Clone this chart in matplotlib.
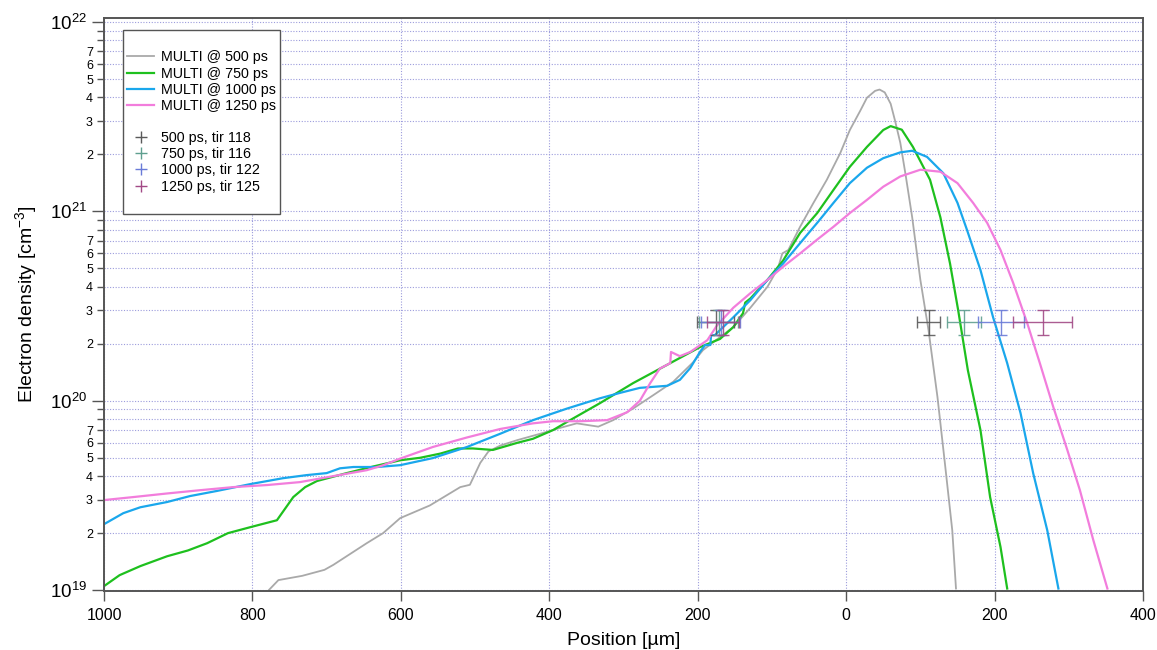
import numpy as np
import matplotlib
matplotlib.use("Agg")
import matplotlib.pyplot as plt
from matplotlib.lines import Line2D
from matplotlib.ticker import LogLocator, FuncFormatter, FixedLocator, LogFormatterMathtext

plt.rcParams['font.family'] = ['Liberation Sans', 'DejaVu Sans']
plt.rcParams['mathtext.default'] = 'regular'

# ---------------------- DADOS --------------------------------------------
# posicao em um (negativo = lado esquerdo, o eixo mostra o valor absoluto)
pos_500 = [-778, -765, -733, -703, -691, -646, -624, -601, -561, -520, -507, -493, -482, -466,
           -443, -412, -385, -363, -334, -314, -287, -260, -233, -206, -193, -170, -152, -129,
           -106, -92, -86, -78, -62, -44, -26, -8, 5, 19, 28, 39, 45, 52, 60, 66, 73, 80, 89,
           100, 111, 123, 133, 143, 148]
ne_500 = [1.0e19, 1.13e19, 1.19e19, 1.28e19, 1.36e19, 1.77e19, 2.0e19, 2.4e19, 2.8e19, 3.5e19,
          3.6e19, 4.7e19, 5.4e19, 5.8e19, 6.2e19, 6.7e19, 7.2e19, 7.6e19, 7.3e19, 7.9e19, 9.1e19,
          1.07e20, 1.26e20, 1.6e20, 1.85e20, 2.17e20, 2.45e20, 3.1e20, 4.0e20, 5.0e20, 6.0e20,
          6.25e20, 8.3e20, 1.11e21, 1.47e21, 2.03e21, 2.69e21, 3.4e21, 3.98e21, 4.33e21, 4.4e21,
          4.25e21, 3.7e21, 3.0e21, 2.3e21, 1.57e21, 9.3e20, 4.35e20, 2.36e20, 1.05e20, 4.7e19,
          2.07e19, 1.02e19]

pos_750 = [-1000, -979, -951, -915, -887, -861, -833, -803, -767, -745, -729, -713, -673, -637,
           -601, -574, -547, -523, -503, -476, -443, -422, -395, -372, -332, -287, -241, -197,
           -170, -152, -139, -136, -129, -106, -85, -62, -39, -17, 5, 28, 50, 60, 75, 90, 113,
           127, 140, 151, 164, 181, 194, 208, 217]
ne_750 = [1.05e19, 1.2e19, 1.34e19, 1.51e19, 1.62e19, 1.77e19, 2.0e19, 2.15e19, 2.34e19, 3.1e19,
          3.5e19, 3.77e19, 4.15e19, 4.5e19, 4.85e19, 5.0e19, 5.26e19, 5.6e19, 5.6e19, 5.5e19,
          6.0e19, 6.3e19, 7.0e19, 7.9e19, 9.7e19, 1.24e20, 1.55e20, 1.92e20, 2.12e20, 2.45e20,
          2.9e20, 3.3e20, 3.47e20, 4.35e20, 5.5e20, 7.7e20, 9.8e20, 1.3e21, 1.72e21, 2.19e21,
          2.69e21, 2.82e21, 2.7e21, 2.19e21, 1.47e21, 9.3e20, 5.3e20, 3.0e20, 1.45e20, 7.0e19,
          3.1e19, 1.69e19, 1.02e19]

pos_1000 = [-1000, -974, -951, -915, -884, -848, -803, -759, -727, -700, -682, -664, -632, -601,
            -557, -511, -466, -422, -376, -332, -305, -278, -241, -224, -210, -197, -190, -183,
            -182, -177, -170, -152, -129, -106, -85, -62, -39, -17, 5, 28, 50, 73, 89, 109, 131,
            150, 163, 181, 198, 217, 235, 252, 271, 286]
ne_1000 = [2.23e19, 2.55e19, 2.74e19, 2.92e19, 3.14e19, 3.34e19, 3.63e19, 3.9e19, 4.05e19,
           4.15e19, 4.4e19, 4.47e19, 4.47e19, 4.57e19, 4.98e19, 5.7e19, 6.7e19, 7.9e19, 9.1e19,
           1.03e20, 1.1e20, 1.17e20, 1.2e20, 1.29e20, 1.49e20, 1.81e20, 1.97e20, 1.97e20,
           2.22e20, 2.22e20, 2.36e20, 2.76e20, 3.4e20, 4.35e20, 5.3e20, 6.8e20, 8.7e20, 1.11e21,
           1.41e21, 1.7e21, 1.91e21, 2.05e21, 2.09e21, 1.94e21, 1.59e21, 1.11e21, 7.95e20,
           4.9e20, 2.76e20, 1.58e20, 8.6e19, 4.15e19, 2.07e19, 1.02e19]

pos_1250 = [-1000, -961, -915, -871, -826, -780, -736, -691, -646, -625, -601, -557, -511, -466,
            -422, -395, -358, -322, -295, -278, -264, -251, -237, -236, -224, -210, -187, -174,
            -152, -129, -106, -85, -62, -39, -17, 5, 28, 50, 73, 100, 127, 150, 171, 190, 208,
            225, 244, 261, 279, 298, 315, 333, 352]
ne_1250 = [2.99e19, 3.1e19, 3.24e19, 3.37e19, 3.5e19, 3.59e19, 3.72e19, 4.0e19, 4.3e19, 4.55e19,
           4.95e19, 5.7e19, 6.4e19, 7.1e19, 7.6e19, 7.8e19, 7.8e19, 7.9e19, 8.7e19, 1.0e20,
           1.24e20, 1.48e20, 1.58e20, 1.81e20, 1.72e20, 1.81e20, 2.09e20, 2.5e20, 3.1e20, 3.7e20,
           4.35e20, 5.1e20, 6.0e20, 7.1e20, 8.3e20, 9.8e20, 1.15e21, 1.35e21, 1.53e21, 1.66e21,
           1.62e21, 1.41e21, 1.11e21, 8.7e20, 6.25e20, 4.2e20, 2.57e20, 1.58e20, 9.3e19, 5.5e19,
           3.37e19, 1.84e19, 1.02e19]

# medidas (interferometria): posicoes dos dois lados, mesma densidade
tiros = ["500 ps, tir 118", "750 ps, tir 116", "1000 ps, tir 122", "1250 ps, tir 125"]
pos_esq = [-176, -172, -169, -166]
err_esq = [25, 26, 26, 22]
pos_dir = [111, 159, 208, 265]
err_dir = [16, 23, 31, 40]
ne_med = 2.6e20
ne_baixo = 2.22e20
ne_alto = 3.0e20

curvas = [
    (pos_500, ne_500, "MULTI @ 500 ps", "#a9a9a9", 1.3),
    (pos_750, ne_750, "MULTI @ 750 ps", "#1ec01e", 1.6),
    (pos_1000, ne_1000, "MULTI @ 1000 ps", "#1aa7ec", 1.6),
    (pos_1250, ne_1250, "MULTI @ 1250 ps", "#f27ddc", 1.6),
]
cores_med = ["#5a5a5a", "#5f9f8f", "#6a7bd8", "#a24a86"]

# ---------------------- FIGURA -------------------------
fig = plt.figure(figsize=(11.57, 6.5), dpi=100)
ax = fig.add_axes([0.0899, 0.0908, 0.898, 0.8815])

linhas = []
for x, y, nome, cor, lw in curvas:
    l, = ax.plot(x, y, color=cor, lw=lw, label=nome)
    linhas.append(l)

yerr = [[ne_med - ne_baixo], [ne_alto - ne_med]]
for i in range(4):
    for xc, xe in ((pos_esq[i], err_esq[i]), (pos_dir[i], err_dir[i])):
        ax.errorbar([xc], [ne_med], xerr=[xe], yerr=yerr, fmt='none', ecolor=cores_med[i],
                    elinewidth=1.0, capsize=4, capthick=1.0, alpha=0.9)

ax.set_yscale('log')
ax.set_xlim(-1000, 400)
ax.set_ylim(0.99e19, 1.05e22)

ax.xaxis.set_major_locator(FixedLocator([-1000, -800, -600, -400, -200, 0, 200, 400]))
ax.xaxis.set_major_formatter(FuncFormatter(lambda v, p: f"{abs(v):.0f}"))

ax.yaxis.set_major_locator(LogLocator(base=10))
ax.yaxis.set_major_formatter(LogFormatterMathtext())
ax.yaxis.set_minor_locator(LogLocator(base=10, subs=np.arange(2, 10)))


def rotulo_menor(v, p):
    m = v / 10 ** np.floor(np.log10(v) + 1e-9)
    m = int(round(m))
    return str(m) if 2 <= m <= 7 else ""


ax.yaxis.set_minor_formatter(FuncFormatter(rotulo_menor))

ax.tick_params(axis='y', which='major', direction='out', length=9, width=1, color='#555555',
               labelsize=13.5, pad=3)
ax.tick_params(axis='y', which='minor', direction='out', length=5, width=1, color='#555555',
               labelsize=9, pad=3)
ax.tick_params(axis='x', which='major', direction='out', length=7, width=1, color='#555555',
               labelsize=11.5, pad=5)
ax.tick_params(top=False, right=False)

grade = dict(color='#9c9cdc', lw=0.8, linestyle=(0, (1, 1.5)))
ax.grid(True, which='both', axis='y', **grade)
ax.grid(True, which='major', axis='x', **grade)
ax.set_axisbelow(True)

for s in ax.spines.values():
    s.set_color('#555555')
    s.set_linewidth(1.4)

ax.set_xlabel("Position [µm]", fontsize=14, labelpad=7)
ax.set_ylabel("Electron density [cm$^{-3}$]", fontsize=14, labelpad=8)

# ---------------------- LEGENDA -------------------------
vazio = Line2D([], [], linestyle='none')
marcas = [Line2D([], [], linestyle='none', marker='+', markersize=9, markeredgewidth=1.0, color=c)
          for c in cores_med]
handles = [vazio] + linhas + [vazio] + marcas + [vazio]
labels = [" "] + [c[2] for c in curvas] + [" "] + tiros + [" "]
leg = ax.legend(handles, labels, loc='upper left', bbox_to_anchor=(0.018, 0.979),
                borderaxespad=0, frameon=True, fancybox=False, edgecolor='#555555',
                framealpha=1, borderpad=0.3, labelspacing=0.15, handlelength=1.9,
                handletextpad=0.45, fontsize=10.3)
leg.get_frame().set_linewidth(1.0)

fig.savefig("out.png", dpi=100)
